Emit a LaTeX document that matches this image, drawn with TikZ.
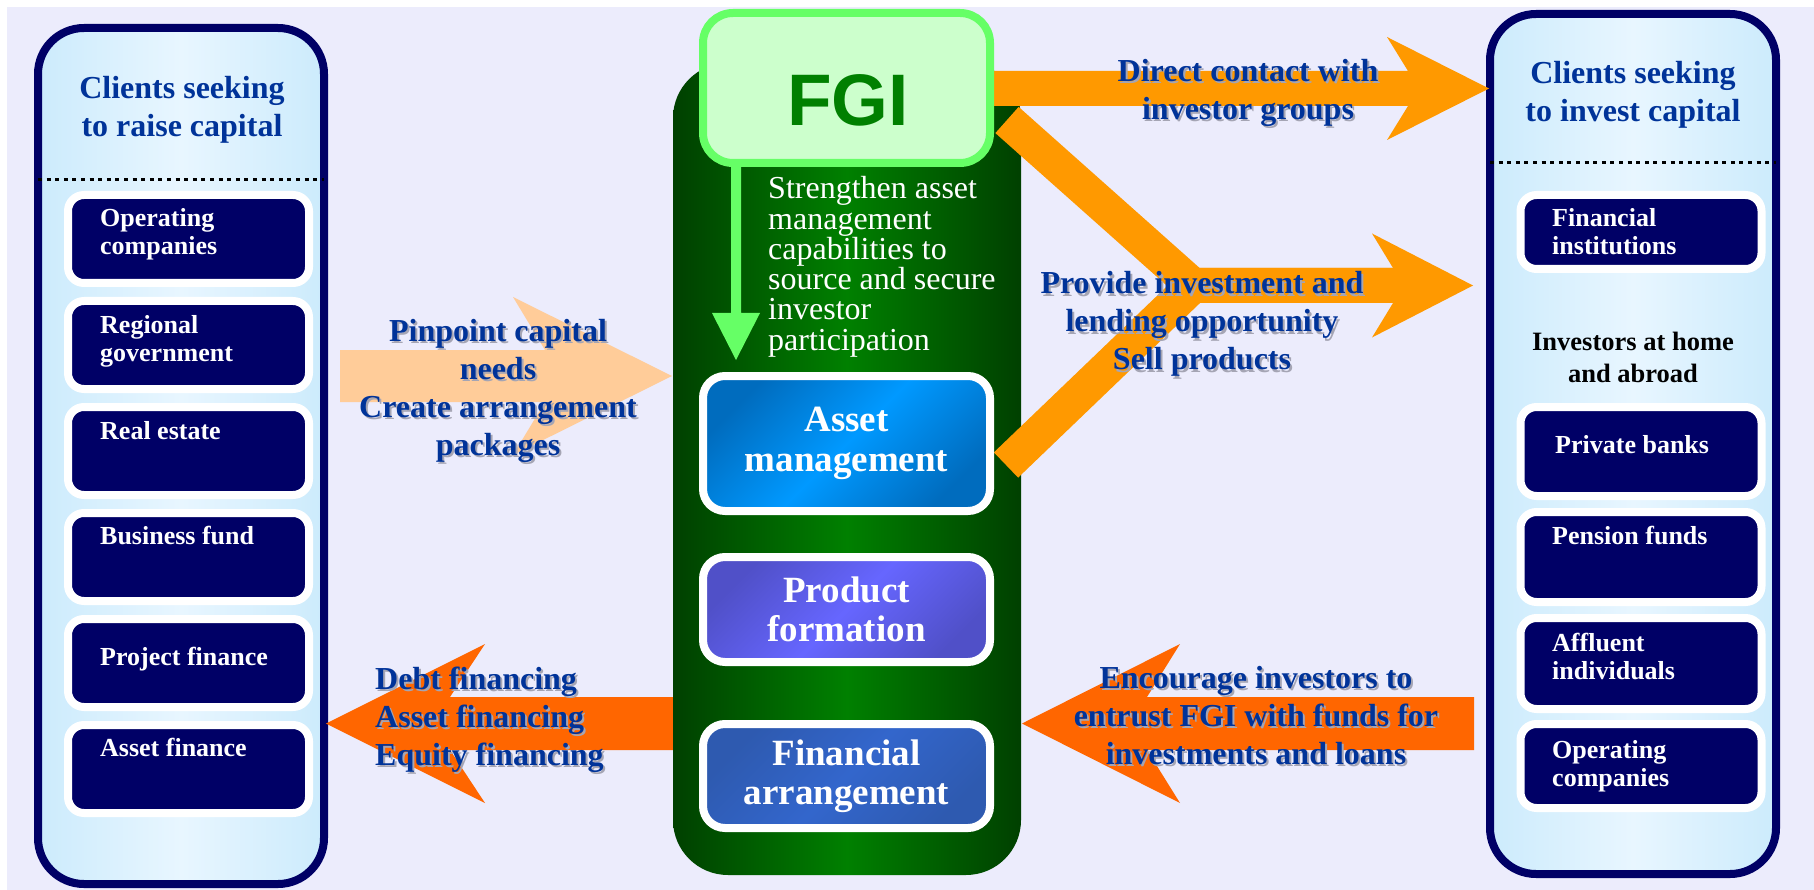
\documentclass[tikz,border=0pt]{standalone}
\usepackage{fontspec}
\setmainfont{Liberation Serif}
\newfontfamily\arialfont{Liberation Sans}
\usetikzlibrary{positioning}

\definecolor{bglav}{RGB}{236,236,252}
\definecolor{boxnavy}{RGB}{0,0,102}
\definecolor{lblblue}{RGB}{0,51,153}
\definecolor{panelside}{RGB}{204,235,252}
\definecolor{panelmid}{RGB}{232,246,255}
\definecolor{fgiline}{RGB}{102,255,102}
\definecolor{fgifill}{RGB}{204,255,204}
\definecolor{fgitext}{RGB}{0,128,0}
\definecolor{greendark}{RGB}{0,64,0}
\definecolor{greenmid}{RGB}{0,128,0}
\definecolor{amber}{RGB}{255,153,0}
\definecolor{redorange}{RGB}{255,102,0}
\definecolor{peach}{RGB}{255,204,153}
\definecolor{shadowgray}{RGB}{165,165,180}
\definecolor{assetdark}{RGB}{0,108,190}
\definecolor{assetlight}{RGB}{0,153,255}
\definecolor{proddark}{RGB}{80,80,200}
\definecolor{prodlight}{RGB}{102,102,255}
\definecolor{findark}{RGB}{46,90,176}
\definecolor{finlight}{RGB}{51,102,204}

\tikzset{
  panel/.style={draw=boxnavy, line width=8pt, rounded corners=46pt,
    left color=panelside, right color=panelside, middle color=panelmid,
    minimum width=286pt},
  clientbox/.style={draw=white, line width=8pt, fill=boxnavy,
    rounded corners=16pt, minimum width=241pt, inner sep=0pt},
  clienttxt/.style={text=white, font=\bfseries\fontsize{26}{28}\selectfont,
    align=left, anchor=base west, inner sep=0pt},
  headtxt/.style={text=lblblue, font=\bfseries\fontsize{32}{38}\selectfont,
    align=center, anchor=base, inner sep=0pt},
  arrowlbl/.style={text=lblblue, font=\bfseries\fontsize{32}{38}\selectfont,
    inner sep=0pt},
  unitbox/.style={draw=white, line width=8pt, rounded corners=22pt,
    minimum width=287pt, text=white,
    font=\bfseries\fontsize{37}{39.5}\selectfont, align=center},
  dotline/.style={line width=3pt, dash pattern=on 4pt off 4.6pt},
  band/.style={draw=amber, line width=35pt, line join=miter},
}

% block arrow: colour, start x, notch x, head x, tip x, centre y, half shaft, half head
\newcommand{\fatarrow}[8]{%
  \fill[#1] (#2,#6-#7) -- (#3,#6-#7) -- (#4,#6-#8) -- (#5,#6)
    -- (#4,#6+#8) -- (#3,#6+#7) -- (#2,#6+#7) -- cycle;}

% label with a soft grey shadow (position = baseline of the last line)
\newcommand{\shlabel}[4]{%
  \node[arrowlbl, #2, text=shadowgray, xshift=2pt, yshift=-2pt] (#1-sh) at (#3) {#4};
  \node[arrowlbl, #2] (#1) at (#3) {#4};}

\begin{document}
\begin{tikzpicture}[x=1pt, y=-1pt]
\useasboundingbox (0,0) rectangle (1814,890);
\fill[bglav] (7,7) rectangle (1814,890);

% client panels
\node[panel, minimum height=856pt] (lpanel) at (181,456) {};
\node[panel, minimum height=860pt] (rpanel) at (1633,444) {};
\draw[dotline] (38,180) -- (324,180);
\draw[dotline] (1490,163) -- (1776,163);
\node[headtxt] (lhead) at (182,137) {Clients seeking\\to raise capital};
\node[headtxt] (rhead) at (1633,122) {Clients seeking\\to invest capital};

\foreach \i/\dy/\txt in {0/16/{Operating\\companies}, 1/16/{Regional\\government},
    2/-12/{Real estate}, 3/-13/{Business fund}, 4/2/{Project finance}, 5/-13/{Asset finance}} {
  \node[clientbox, minimum height=88pt] (lbox\i) at (188.5,{239+106*\i}) {};
  \node[clienttxt] (ltxt\i) at (100,{239+106*\i+(\dy)}) {\txt};
}

\node[clientbox, minimum height=74pt] (rbox0) at (1641,232) {};
\node[clienttxt] (rtxt0) at (1552,255) {Financial\\institutions};
\node[font=\bfseries\fontsize{26.5}{32}\selectfont, align=center, anchor=base,
  inner sep=0pt] (homeabroad) at (1633,382) {Investors at home\\and abroad};
\node[clientbox, minimum height=89pt] (rbox1) at (1641,451.5) {};
\node[clienttxt] (rtxt1) at (1555,453) {Private banks};
\node[clientbox, minimum height=90pt] (rbox2) at (1641,557) {};
\node[clienttxt] (rtxt2) at (1552,544) {Pension funds};
\node[clientbox, minimum height=91pt] (rbox3) at (1641,663.5) {};
\node[clienttxt] (rtxt3) at (1552,679) {Affluent\\individuals};
\node[clientbox, minimum height=84pt] (rbox4) at (1641,766) {};
\node[clienttxt] (rtxt4) at (1552,786) {Operating\\companies};

% arrows on the left
\fatarrow{peach}{340}{545}{513}{672}{376}{26}{79}
\fatarrow{redorange}{690}{450}{485}{326}{723.5}{26.5}{79.5}

% FGI core
\node[rounded corners=55pt, minimum width=348pt, minimum height=812pt,
  left color=greendark, right color=greendark, middle color=greenmid] (core) at (847,469) {};

% arrows on the right
\fatarrow{amber}{980}{1408}{1387}{1489}{88.5}{17.5}{51.5}
\draw[band] (1007,120) -- (1193,285.5) -- (1394,285.5);
\draw[band] (1006,465) -- (1193,285.5) -- (1394,285.5);
\fill[amber] (1393,268) -- (1372,233.5) -- (1473,285.5) -- (1372,337.5) -- (1393,303) -- cycle;
\fatarrow{redorange}{1474}{1147}{1180}{1022}{723.5}{26.5}{79.5}

\fill[fgiline] (731,165) -- (741,165) -- (741,313) -- (760,313) -- (736,360)
  -- (712,313) -- (731,313) -- cycle;

\node[draw=fgiline, line width=8pt, fill=fgifill, rounded corners=30pt,
  minimum width=287pt, minimum height=150pt] (fgi) at (846.5,88) {};
\node[font=\arialfont\bfseries\fontsize{73}{80}\selectfont, text=fgitext,
  anchor=base, inner sep=0pt] (fgilabel) at (848,126) {FGI};

\node[unitbox, minimum height=135pt, top color=assetdark, bottom color=assetdark,
  middle color=assetlight, shading angle=45] (asset) at (846.5,443.5) {Asset\\management};
\node[unitbox, minimum height=105pt, top color=proddark, bottom color=proddark,
  middle color=prodlight, shading angle=45] (product) at (846.5,609.5) {Product\\formation};
\node[unitbox, minimum height=104pt, top color=findark, bottom color=findark,
  middle color=finlight, shading angle=45] (finance) at (846.5,776) {Financial\\arrangement};

\node[anchor=base west, align=left, inner sep=0pt, text=white,
  font=\fontsize{32}{30.2}\selectfont] (strengthen) at (768,350)
  {Strengthen asset\\management\\capabilities to\\source and secure\\investor\\participation};

% arrow labels
\shlabel{pinpoint}{anchor=base, align=center}{498,455}{Pinpoint capital\\needs\\Create arrangement\\packages}
\shlabel{direct}{anchor=base, align=center}{1248,120}{Direct contact with\\investor groups}
\shlabel{provide}{anchor=base, align=center}{1202,370}{Provide investment and\\lending opportunity\\Sell products}
\shlabel{debt}{anchor=base west, align=left}{375,765}{Debt financing\\Asset financing\\Equity financing}
\shlabel{encourage}{anchor=base, align=center}{1256,764}{Encourage investors to\\entrust FGI with funds for\\investments and loans}
\end{tikzpicture}
\end{document}
